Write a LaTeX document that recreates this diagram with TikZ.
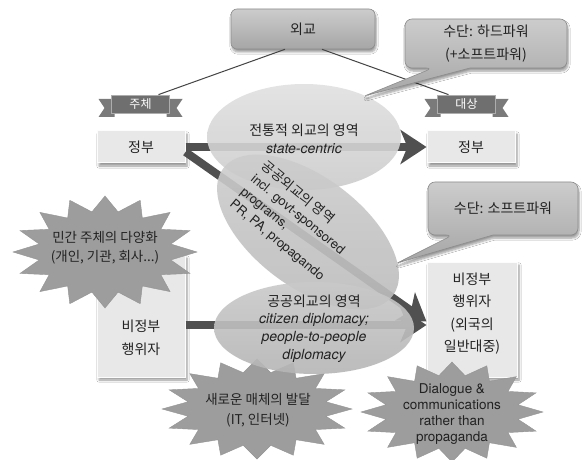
\documentclass[tikz,border=0pt]{standalone}
\usepackage{fontspec}
\setmainfont{Noto Sans CJK KR}
\newfontfamily\lat{TeX Gyre Heros}
\newcommand\latsm{\lat\fontsize{13}{16.5}\selectfont}
\usetikzlibrary{shapes.geometric,arrows.meta,calc,shadows.blur}
\definecolor{ink}{HTML}{222222}
\definecolor{boxgray}{HTML}{E8E8E8}
\definecolor{arrowgray}{HTML}{505050}
\definecolor{bannergray}{HTML}{6F6F6F}
\definecolor{tailgray}{HTML}{7A7A7A}
\definecolor{burstgray}{HTML}{9D9D9D}
\definecolor{linegray}{HTML}{444444}
\begin{document}
\begin{tikzpicture}[x=1pt,y=-1pt,
  every node/.style={text=ink},
  kr/.style={font=\fontsize{14}{22}\selectfont, align=center},
  gbox/.style={fill=boxgray, draw=white!85!boxgray, line width=1pt, minimum width=88,
    minimum height=32, inner sep=0,
    blur shadow={shadow xshift=2pt, shadow yshift=-3pt, shadow blur steps=6}},
  roundbox/.style={rounded corners=6pt, top color=black!20, bottom color=black!35,
    draw=black!45, line width=.6pt,
    blur shadow={shadow xshift=1pt, shadow yshift=-3pt, shadow blur steps=6}},
  banner/.style={fill=bannergray, draw=black!32, line width=.8pt, minimum width=58,
    minimum height=18, inner sep=0, text=white, font=\fontsize{12}{14}\selectfont},
  tail/.style={fill=tailgray},
  thinline/.style={draw=linegray, line width=1pt},
  bigarrow/.style={draw=arrowgray, line width=8pt,
    -{Stealth[length=26pt, width=34pt, inset=7pt]}},
  ell/.style={ellipse, inner sep=0, fill opacity=.9},
  burst/.style={fill=burstgray, draw=black!42, line width=.4pt},
]
\fill[white] (0,0) rectangle (582,460);
\useasboundingbox (0,0) rectangle (582,460);

% ---- top: diplomacy box and the two banners ----
\node[roundbox, kr, minimum width=144, minimum height=40] (wg) at (303,29) {외교};

\coordinate (b1c) at (140.5,104);
\fill[tail] ($(b1c)+(-26,-5)$) -- ++(-16,0) -- ++(6,9) -- ++(-6,9) -- ++(16,0) -- cycle;
\fill[tail] ($(b1c)+(26,-5)$) -- ++(16,0) -- ++(-6,9) -- ++(6,9) -- ++(-16,0) -- cycle;
\node[banner] (b1) at (b1c) {주체};

\coordinate (b2c) at (466.5,104);
\fill[tail] ($(b2c)+(-26,-5)$) -- ++(-16,0) -- ++(6,9) -- ++(-6,9) -- ++(16,0) -- cycle;
\fill[tail] ($(b2c)+(26,-5)$) -- ++(16,0) -- ++(-6,9) -- ++(6,9) -- ++(-16,0) -- cycle;
\node[banner] (b2) at (b2c) {대상};

\draw[thinline] ($(wg.south)+(-18,0)$) -- ($(b1.north)+(18,0)$);
\draw[thinline] ($(wg.south)+(19,0)$) -- ($(b2.north)+(-18,0)$);

% ---- actor boxes ----
\node[gbox, kr] (gl) at (141,147) {정부};
\node[gbox, kr] (gr) at (471,147) {정부};
\node[gbox, minimum height=122] (ngl) at (141,316) {};
\node[kr, font=\fontsize{14}{23}\selectfont] (nglt) at ($(ngl.center)+(0,21.5)$) {비정부\\행위자};
\node[gbox, minimum width=90, minimum height=115] (ngr) at (472,319.5) {};
\node[kr, font=\fontsize{14}{22.5}\selectfont] (ngrt) at ($(ngr.center)+(0,-6)$) {비정부\\행위자\\(외국의\\일반대중)};

% ---- flows ----
\draw[bigarrow] (gl.east) -- (gr.west);
\draw[bigarrow] ($(gl.east)+(0,5)$) -- ($(ngr.west)+(0,2)$);
\draw[bigarrow] ($(ngl.east)+(0,9)$) coordinate (h0) -- (h0 -| ngr.west);

% ---- new media burst (under the lower ellipse) ----
\fill[burst] plot[samples at={0,...,31}, variable=\k]
  ({257+95*(1-0.26*mod(\k,2))*cos(\k*11.25)}, {409+50*(1-0.26*mod(\k,2))*sin(\k*11.25)}) -- cycle;
\node[kr, font=\fontsize{13.5}{20}\selectfont] (s2t) at (258,410) {새로운 매체의 발달\\(IT, 인터넷)};

% ---- domains ----
\node[ell, top color=black!12, bottom color=black!20, minimum width=194, minimum height=106] (e1) at (304,137) {};
\node[kr, font=\fontsize{14}{18}\selectfont] (e1t) at (304,139) {전통적 외교의 영역\\{\lat\itshape state-centric}};

\node[ell, rotate=-37, top color=black!19, bottom color=black!27, minimum width=212, minimum height=110] (e2) at (308,232) {};
\node[rotate=-39.5, align=left, font=\fontsize{13.5}{16.5}\selectfont] (e2t) at (293,221)
  {공공외교의 영역\\{\latsm incl. govt-sponsored}\\{\latsm programs,}\\{\latsm PR, PA, propagando}};

\node[ell, top color=black!21, bottom color=black!29, minimum width=200, minimum height=92] (e3) at (314,328) {};
\node[kr, font=\fontsize{14}{17.6}\selectfont] (e3t) at (314,328.5)
  {공공외교의 영역\\{\lat\itshape citizen diplomacy;}\\{\lat\itshape people-to-people}\\{\lat\itshape diplomacy}};

% ---- bursts over the boxes ----
\fill[burst] plot[samples at={0,...,31}, variable=\k]
  ({105+92*(1-0.27*mod(\k,2))*cos(\k*11.25)}, {252+56*(1-0.27*mod(\k,2))*sin(\k*11.25)}) -- cycle;
\node[kr, font=\fontsize{13.5}{19}\selectfont] (s1t) at (105,247.5) {민간 주체의 다양화\\(개인, 기관, 회사...)};

\fill[burst] plot[samples at={0,...,31}, variable=\k]
  ({452+91*(1-0.26*mod(\k,2))*cos(\k*11.25)}, {412+50*(1-0.26*mod(\k,2))*sin(\k*11.25)}) -- cycle;
\node[align=center, font=\lat\fontsize{13.5}{15.7}\selectfont] (s3t) at (452,414)
  {Dialogue \&\\communications\\rather than\\propaganda};

% ---- callouts ----
\coordinate (c1a) at (405,19);
\coordinate (c1b) at (567,68);
\path[roundbox, rounded corners=0pt] ($(c1a |- c1b)+(65,0)$) [rounded corners=7pt] -- (c1b) -- (c1a -| c1b) -- (c1a) -- (c1a |- c1b)
  -- ($(c1a |- c1b)+(28,0)$) [sharp corners] -- (e1.34) -- cycle;
\node[kr, font=\fontsize{14}{23}\selectfont] (c1t) at ($(c1a)!0.5!(c1b)$) {수단: 하드파워\\(+소프트파워)};

\coordinate (c2a) at (428,182);
\coordinate (c2b) at (578,235);
\path[roundbox, rounded corners=0pt] ($(c2a |- c2b)+(65,0)$) [rounded corners=7pt] -- (c2b) -- (c2a -| c2b) -- (c2a) -- (c2a |- c2b)
  -- ($(c2a |- c2b)+(25,0)$) [sharp corners] -- (e2.18) -- cycle;
\node[kr] (c2t) at ($(c2a)!0.5!(c2b)$) {수단: 소프트파워};
\end{tikzpicture}
\end{document}
